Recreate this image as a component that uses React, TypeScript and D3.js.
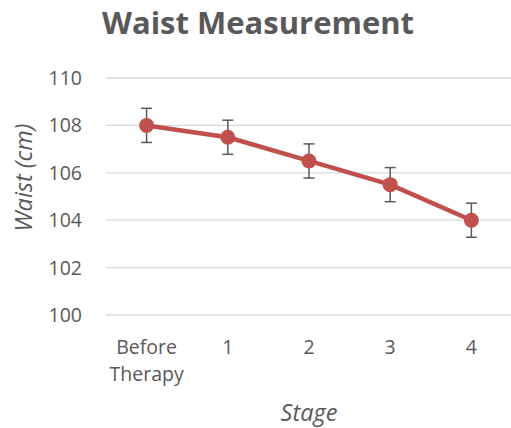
import React from "react";
import * as d3 from "d3";

const categories: string[] = ["Before Therapy", "1", "2", "3", "4"];
const waist: number[] = [108, 107.5, 106.5, 105.5, 104];
const errors: number[] = [0.72, 0.72, 0.72, 0.72, 0.72];
const yTicks: number[] = [100, 102, 104, 106, 108, 110];

const W = 511;
const H = 428;
const FONT = "'Open Sans', 'Liberation Sans', sans-serif";
const TXT = "#595959";

export default function App() {
  const x = d3.scaleBand<string>().domain(categories).range([106, 512]);
  const y = d3.scaleLinear().domain([100, 110]).range([315, 78]);
  const cx = (c: string) => (x(c) as number) + x.bandwidth() / 2;
  const line = d3
    .line<number>()
    .x((_, i) => cx(categories[i]))
    .y((d) => y(d));

  return (
    <svg
      width={W}
      height={H}
      style={{ position: "absolute", left: 0, top: 0, background: "#fff" }}
      fontFamily={FONT}
    >
      <text x={258} y={34} textAnchor="middle" fontSize={31} fontWeight="bold" fill={TXT}>
        Waist Measurement
      </text>
      {yTicks.map((t) => (
        <g key={t}>
          <line x1={106} x2={511} y1={y(t)} y2={y(t)} stroke="#d9d9d9" strokeWidth={1.3} />
          <text x={82} y={y(t)} dy="0.36em" textAnchor="end" fontSize={19.5} fill={TXT}>
            {t}
          </text>
        </g>
      ))}
      {categories.map((c) => {
        const words = c.split(" ");
        return (
          <text key={c} x={cx(c)} y={354} textAnchor="middle" fontSize={19.5} fill={TXT}>
            {words.map((w, i) => (
              <tspan key={i} x={cx(c)} dy={i === 0 ? 0 : 27}>
                {w}
              </tspan>
            ))}
          </text>
        );
      })}
      <text x={309} y={421} textAnchor="middle" fontSize={23.5} fontStyle="italic" fill={TXT}>
        Stage
      </text>
      <text
        transform={`translate(32,${y(105.8)}) rotate(-90)`}
        textAnchor="middle"
        fontSize={23.5}
        fontStyle="italic"
        fill={TXT}
      >
        Waist (cm)
      </text>
      <path d={line(waist) as string} fill="none" stroke="#C0504D" strokeWidth={4.5} strokeLinejoin="round" />
      {waist.map((v, i) => {
        const px = cx(categories[i]);
        const t = y(v + errors[i]);
        const b = y(v - errors[i]);
        return (
          <g key={i} stroke="#595959" strokeWidth={1.5}>
            <line x1={px} x2={px} y1={t} y2={b} />
            <line x1={px - 5.5} x2={px + 5.5} y1={t} y2={t} />
            <line x1={px - 5.5} x2={px + 5.5} y1={b} y2={b} />
          </g>
        );
      })}
      {waist.map((v, i) => (
        <circle key={i} cx={cx(categories[i])} cy={y(v)} r={7.5} fill="#C0504D" />
      ))}
    </svg>
  );
}
